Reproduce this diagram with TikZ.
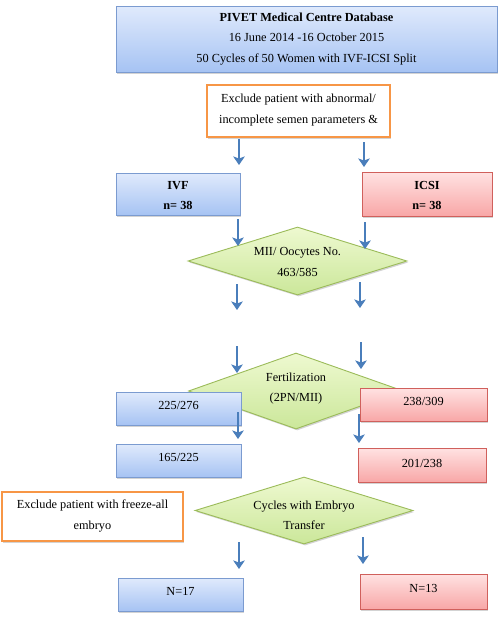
\documentclass[tikz,border=0pt]{standalone}
\usepackage{fontspec}
\setmainfont{Liberation Serif}
\usetikzlibrary{shapes.geometric,shadows,arrows.meta}
\definecolor{bluetop}{HTML}{E0EAFC}
\definecolor{bluebot}{HTML}{A6C3F3}
\definecolor{blueline}{HTML}{7B9BD0}
\definecolor{redtop}{HTML}{FFE2E2}
\definecolor{redbot}{HTML}{F8A7A7}
\definecolor{redline}{HTML}{D0605C}
\definecolor{greentop}{HTML}{EEF9D0}
\definecolor{greenbot}{HTML}{CBE79A}
\definecolor{greenline}{HTML}{9BBB59}
\definecolor{orangeline}{HTML}{F79646}
\definecolor{arrowblue}{HTML}{4A7EBB}
\tikzset{
  txt/.style={font=\fontsize{12.3}{20.5}\selectfont, align=center, text=black},
  up/.style={text height=9pt, text depth=7.5pt},
  shad/.style={drop shadow={opacity=0.35, shadow xshift=1.2pt, shadow yshift=-1.5pt}},
  bluebox/.style={txt, shad, rectangle, draw=blueline, line width=0.9pt, top color=bluetop, bottom color=bluebot, inner sep=0pt},
  redbox/.style={txt, shad, rectangle, draw=redline, line width=0.9pt, top color=redtop, bottom color=redbot, inner sep=0pt},
  greendia/.style={txt, shad, diamond, draw=greenline, line width=0.9pt, top color=greentop, bottom color=greenbot, inner sep=-10pt, aspect=3.2},
  orangebox/.style={txt, shad, rectangle, draw=orangeline, line width=1.8pt, fill=white, inner sep=0pt},
  arr/.style={draw=arrowblue, line width=2.6pt, -{Stealth[length=8.5pt,width=11.5pt,inset=2pt]}}
}
\begin{document}
\begin{tikzpicture}[x=1pt,y=-1pt]
\useasboundingbox (0,0) rectangle (500,624);
% boxes
\node[bluebox, minimum width=381pt, minimum height=66pt] (top) at (306.5,39)
  {\textbf{PIVET Medical Centre Database}\\16 June 2014 -16 October 2015\\50 Cycles of 50 Women with IVF-ICSI Split\\[-17pt]\mbox{}};
\node[orangebox, minimum width=183pt, minimum height=52pt] (ex1) at (298.5,111)
  {Exclude patient with abnormal/\\incomplete semen parameters \&\\[-16pt]\mbox{}};
\node[bluebox, minimum width=124pt, minimum height=42pt] (ivf) at (178,194) {\rule{0pt}{11pt}\textbf{IVF}\\\textbf{n= 38}};
\node[redbox, minimum width=130pt, minimum height=44pt] (icsi) at (427,194) {\rule{0pt}{11pt}\textbf{ICSI}\\\textbf{n= 38}};
\node[greendia, minimum width=219pt, minimum height=68pt] (mii) at (297.5,261) {\rule{0pt}{10pt}MII/ Oocytes No.\\463/585};
\node[greendia, minimum width=215pt, minimum height=76pt] (fert) at (296,391) {Fertilization\\(2PN/MII)\\[-12.5pt]\mbox{}};
\node[bluebox, up, minimum width=125pt, minimum height=33pt] (b1) at (178.5,408.5) {225/276};
\node[redbox, up, minimum width=127pt, minimum height=33pt] (r1) at (423.5,404.5) {238/309};
\node[bluebox, up, minimum width=125pt, minimum height=33pt] (b2) at (178.5,460.5) {165/225};
\node[redbox, minimum width=128pt, minimum height=34pt, text height=9pt, text depth=4.5pt] (r2) at (422,465) {201/238};
\node[greendia, minimum width=218pt, minimum height=67pt] (emb) at (304,510.5) {\rule{0pt}{18pt}Cycles with Embryo\\Transfer};
\node[orangebox, minimum width=181pt, minimum height=49pt] (ex2) at (92.5,516.5) {Exclude patient with freeze-all\\embryo\\[-17pt]\mbox{}};
\node[bluebox, up, minimum width=125pt, minimum height=33pt] (n17) at (180.5,594.5) {N=17};
\node[redbox, up, minimum width=127pt, minimum height=35pt] (n13) at (423.5,591.5) {N=13};
% arrow coordinates
\coordinate (a1s) at (239,139); \coordinate (a1e) at (239,165);
\coordinate (a2s) at (364,142); \coordinate (a2e) at (364,167);
\coordinate (a3s) at (238,219); \coordinate (a3e) at (238,246);
\coordinate (a4s) at (365,222); \coordinate (a4e) at (365,249);
\coordinate (a5s) at (237,284); \coordinate (a5e) at (237,310);
\coordinate (a6s) at (360,282); \coordinate (a6e) at (360,308);
\coordinate (a7s) at (237,346); \coordinate (a7e) at (237,373);
\coordinate (a8s) at (361,342); \coordinate (a8e) at (361,369);
\coordinate (a9s) at (238,412); \coordinate (a9e) at (238,439);
\coordinate (a10s) at (359,414); \coordinate (a10e) at (359,443);
\coordinate (a11s) at (239,542); \coordinate (a11e) at (239,569);
\coordinate (a12s) at (363,537); \coordinate (a12e) at (363,564);
\foreach \i in {1,...,12} {\draw[arr] (a\i s) -- (a\i e);}
\end{tikzpicture}
\end{document}
